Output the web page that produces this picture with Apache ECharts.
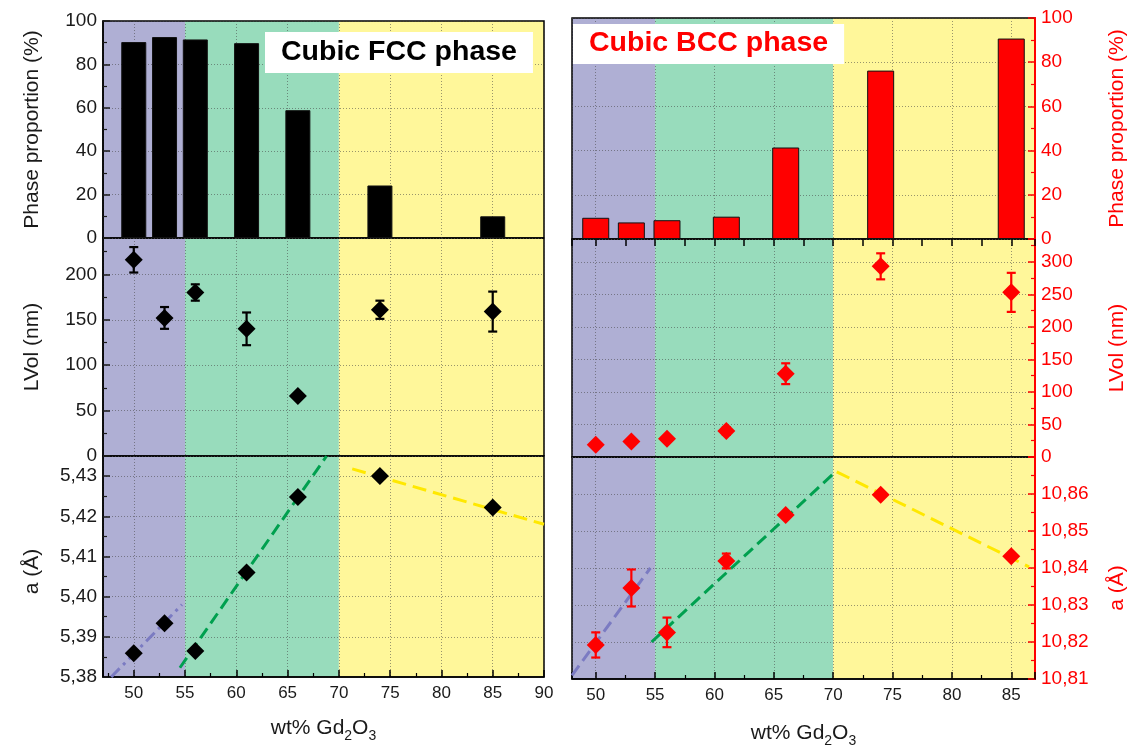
<!DOCTYPE html>
<html>
<head>
<meta charset="utf-8">
<script src="https://cdn.jsdelivr.net/npm/echarts@6/dist/echarts.min.js"></script>
<style>
  html, body { margin: 0; padding: 0; background: #fff; }
  #chart { width: 1134px; height: 749px; }
</style>
</head>
<body>
<div id="chart"></div>
<script>
// samples, wt% Gd2O3
var gd2o3 = [50, 53, 56, 61, 66, 74, 85];

// phase proportion (%)
var fccPhase = [90.3, 92.6, 91.5, 89.8, 58.9, 24.2, 10.0];
var bccPhase = [9.6, 7.5, 8.5, 10.1, 41.4, 76.2, 90.7];

// LVol (nm) and its error
var fccLvol = [216, 152, 180, 140, 66, 161, 159];
var fccLvolErr = [14, 12, 9, 18, 0, 10, 22];
var bccLvol = [19, 24, 28, 40, 128, 293, 253];
var bccLvolErr = [0, 0, 0, 6, 16, 20, 30];

// lattice parameter a (Å)
var fccA = [5.3859, 5.3934, 5.3865, 5.4060, 5.4248, 5.4300, 5.4222];
var bccA = [10.8192, 10.8346, 10.8226, 10.8419, 10.8543, 10.8598, 10.8432];
var bccAErr = [0.0034, 0.005, 0.004, 0.002, 0, 0, 0];

// linear fits drawn in each zone
var fccFitPurple = [[47.8, 5.38], [54.7, 5.398]];
var fccFitGreen = [[54.5, 5.3823], [68.8, 5.435]];
var fccFitYellow = [[71.3, 5.4318], [90, 5.418]];
var bccFitPurple = [[48, 10.811], [54.6, 10.84]];
var bccFitGreen = [[54.7, 10.82], [70.2, 10.866]];
var bccFitYellow = [[70.3, 10.866], [86.5, 10.8403]];

// zone limits and axis ranges
var bandEdges = [55, 70];
var fccXRange = [47, 90];
var bccXRange = [48, 87];

var FONT = 'Arial, "Liberation Sans", Helvetica, sans-serif';
var RED = '#ff0000';
var INK = '#1a1a1a';
var bandColors = ['#afafd4', '#98dcbc', '#fff79a'];
var gridLine = { show: true, lineStyle: { color: 'rgba(70,70,70,0.55)', type: [1, 2], width: 1 } };

function pts(xs, ys) {
  return xs.map(function (x, i) { return [x, ys[i]]; });
}
function comma(d) {
  return function (v) { return v.toFixed(d).replace('.', ','); };
}
function fives(v) {
  return Math.abs(v % 5) < 1e-6 ? String(v) : '';
}

function bandSeries(gi, range) {
  return {
    type: 'custom', xAxisIndex: gi, yAxisIndex: gi, z: -10, silent: true,
    data: [[range[0], bandEdges[0], 0], [bandEdges[0], bandEdges[1], 1], [bandEdges[1], range[1], 2]],
    renderItem: function (params, api) {
      var cs = params.coordSys;
      var x0 = api.coord([api.value(0), 0])[0];
      var x1 = api.coord([api.value(1), 0])[0];
      return {
        type: 'rect',
        shape: { x: x0, y: cs.y, width: x1 - x0, height: cs.height },
        style: { fill: bandColors[api.value(2)] }
      };
    }
  };
}

function errSeries(gi, xs, ys, errs, color) {
  var data = [];
  xs.forEach(function (x, i) {
    if (errs[i] > 0) data.push([x, ys[i] - errs[i], ys[i] + errs[i]]);
  });
  return {
    type: 'custom', xAxisIndex: gi, yAxisIndex: gi, z: 3, silent: true,
    data: data, encode: { x: 0, y: [1, 2] },
    renderItem: function (params, api) {
      var top = api.coord([api.value(0), api.value(2)]);
      var bot = api.coord([api.value(0), api.value(1)]);
      var w = 4.5;
      function ln(a, b, c, d) {
        return { type: 'line', shape: { x1: a, y1: b, x2: c, y2: d }, style: { stroke: color, lineWidth: 2.2 } };
      }
      return {
        type: 'group',
        children: [
          ln(top[0], top[1], bot[0], bot[1]),
          ln(top[0] - w, top[1], top[0] + w, top[1]),
          ln(bot[0] - w, bot[1], bot[0] + w, bot[1])
        ]
      };
    }
  };
}

function fitLine(gi, data, color, type) {
  return {
    type: 'line', xAxisIndex: gi, yAxisIndex: gi, z: 2, silent: true,
    symbol: 'none', data: data,
    lineStyle: { color: color, width: 3, type: type }
  };
}

function dots(gi, ys, color) {
  return {
    type: 'scatter', xAxisIndex: gi, yAxisIndex: gi, z: 4,
    symbol: 'diamond', symbolSize: 18, itemStyle: { color: color, opacity: 1 },
    data: pts(gd2o3, ys)
  };
}

function bars(gi, ys, color, width) {
  return {
    type: 'bar', xAxisIndex: gi, yAxisIndex: gi, barWidth: width,
    itemStyle: { color: color, borderColor: '#111', borderWidth: 1 },
    data: pts(gd2o3, ys)
  };
}

function xAx(gi, range, extra) {
  return Object.assign({
    type: 'value', gridIndex: gi, min: range[0], max: range[1], splitNumber: 8,
    axisLine: { show: false }, axisTick: { show: false }, minorTick: { show: false },
    axisLabel: { show: false }, splitLine: gridLine
  }, extra || {});
}

var xName = {
  name: 'wt% Gd{s|2}O{s|3}', nameLocation: 'middle',
  nameTextStyle: {
    fontFamily: FONT, fontSize: 21, color: INK, lineHeight: 30,
    rich: { s: { fontFamily: FONT, fontSize: 14, lineHeight: 14, verticalAlign: 'bottom', color: INK } }
  }
};

function xBottom(gi, range, gap) {
  return xAx(gi, range, Object.assign({}, xName, {
    nameGap: gap,
    axisLine: { show: true, lineStyle: { color: '#000', width: 1.5 } },
    axisTick: { show: true, inside: true, length: 7, lineStyle: { color: '#000', width: 1.5 } },
    minorTick: { show: true, splitNumber: 2, length: 4, lineStyle: { color: '#000', width: 1.2 } },
    axisLabel: { show: true, margin: 8, fontSize: 17, color: INK, fontFamily: FONT, formatter: fives }
  }));
}

function yAx(gi, min, max, interval, side, color, fmt, name, showMax, namePad) {
  return {
    type: 'value', gridIndex: gi, position: side, min: min, max: max, interval: interval,
    axisLine: { show: true, lineStyle: { color: color === RED ? RED : '#000', width: color === RED ? 2 : 1.5 } },
    axisTick: { show: true, inside: true, length: 7, lineStyle: { color: color, width: 1.5 } },
    minorTick: { show: true, splitNumber: 2, length: 4, lineStyle: { color: color, width: 1.2 } },
    axisLabel: { show: true, margin: 6, fontSize: 19, color: color, fontFamily: FONT, formatter: fmt, showMaxLabel: showMax },
    splitLine: gridLine,
    name: name, nameLocation: 'middle', nameRotate: 90, nameGap: side === 'left' ? 60 : 72,
    nameTextStyle: { fontFamily: FONT, fontSize: 21, color: color, padding: namePad || 0 }
  };
}

var grids = [
  { left: 103, top: 21, width: 441, height: 217 },
  { left: 103, top: 238, width: 441, height: 218 },
  { left: 103, top: 456, width: 441, height: 221 },
  { left: 572, top: 18, width: 463, height: 221 },
  { left: 572, top: 239, width: 463, height: 218 },
  { left: 572, top: 457, width: 463, height: 222 }
].map(function (g) {
  return Object.assign({ show: true, borderColor: '#000', borderWidth: 1.5, backgroundColor: 'transparent' }, g);
});

var option = {
  animation: false,
  backgroundColor: '#fff',
  textStyle: { fontFamily: FONT },
  title: [
    {
      text: 'Cubic FCC phase', left: 265, top: 32, padding: [6, 16, 6, 16], backgroundColor: '#fff',
      textStyle: { fontFamily: FONT, fontSize: 28.5, fontWeight: 'bold', color: '#000' }
    },
    {
      text: 'Cubic BCC phase', left: 573, top: 24, padding: [5, 16, 6, 16], backgroundColor: '#fff',
      textStyle: { fontFamily: FONT, fontSize: 28.5, fontWeight: 'bold', color: RED }
    }
  ],
  grid: grids,
  xAxis: [
    xAx(0, fccXRange),
    xAx(1, fccXRange),
    xBottom(2, fccXRange, 36),
    xAx(3, bccXRange, {
      position: 'top',
      axisTick: { show: true, inside: true, length: 7, lineStyle: { color: '#000', width: 1.5 } },
      minorTick: { show: true, splitNumber: 2, length: 7, lineStyle: { color: '#000', width: 1.5 } }
    }),
    xAx(4, bccXRange),
    xBottom(5, bccXRange, 39)
  ],
  yAxis: [
    yAx(0, 0, 100, 20, 'left', INK, null, 'Phase proportion (%)', true),
    yAx(1, 0, 240, 50, 'left', INK, null, 'LVol (nm)', false),
    yAx(2, 5.38, 5.435, 0.01, 'left', INK, comma(2), 'a (\u00c5)', false, [0, 10, 0, 0]),
    yAx(3, 0, 100, 20, 'right', RED, null, 'Phase proportion (%)', true),
    yAx(4, 0, 335, 50, 'right', RED, null, 'LVol (nm)', false),
    yAx(5, 10.81, 10.87, 0.01, 'right', RED, comma(2), 'a (\u00c5)', false, [0, 40, 0, 0])
  ],
  series: [
    bandSeries(0, fccXRange), bandSeries(1, fccXRange), bandSeries(2, fccXRange),
    bandSeries(3, bccXRange), bandSeries(4, bccXRange), bandSeries(5, bccXRange),

    bars(0, fccPhase, '#000', 25),
    bars(3, bccPhase, RED, 27),

    errSeries(1, gd2o3, fccLvol, fccLvolErr, '#000'),
    dots(1, fccLvol, '#000'),
    errSeries(4, gd2o3, bccLvol, bccLvolErr, RED),
    dots(4, bccLvol, RED),

    fitLine(2, fccFitPurple, '#7b7bc2', [12, 5, 3, 5]),
    fitLine(2, fccFitGreen, '#00a04f', [12, 6]),
    fitLine(2, fccFitYellow, '#ffe800', [14, 7]),
    dots(2, fccA, '#000'),

    fitLine(5, bccFitPurple, '#7b7bc2', [12, 6]),
    fitLine(5, bccFitGreen, '#00a04f', [12, 6]),
    fitLine(5, bccFitYellow, '#ffe800', [14, 7]),
    errSeries(5, gd2o3, bccA, bccAErr, RED),
    dots(5, bccA, RED)
  ]
};

var chart = echarts.init(document.getElementById('chart'), null, { renderer: 'canvas' });
chart.setOption(option);
</script>
</body>
</html>
